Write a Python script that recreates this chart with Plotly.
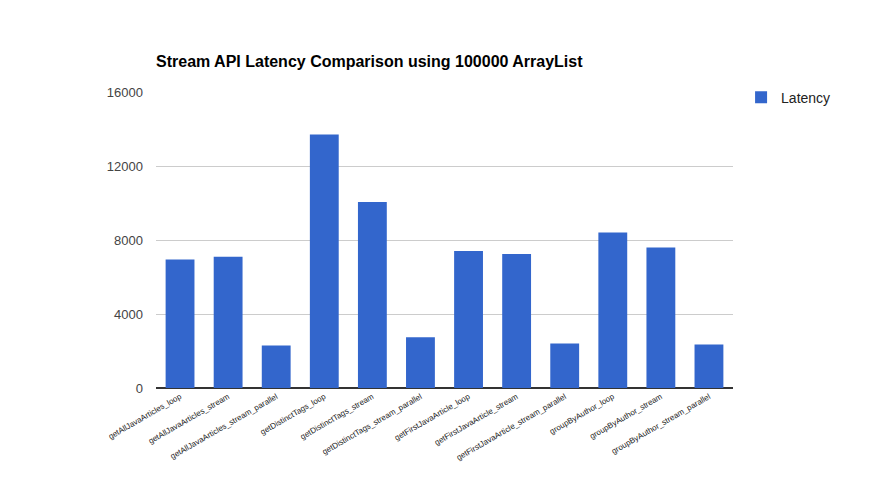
import plotly.graph_objects as go

categories = [
    "getAllJavaArticles_loop", "getAllJavaArticles_stream", "getAllJavaArticles_stream_parallel",
    "getDistinctTags_loop", "getDistinctTags_stream", "getDistinctTags_stream_parallel",
    "getFirstJavaArticle_loop", "getFirstJavaArticle_stream", "getFirstJavaArticle_stream_parallel",
    "groupByAuthor_loop", "groupByAuthor_stream", "groupByAuthor_stream_parallel",
]
latency = [6950, 7100, 2300, 13700, 10050, 2750, 7400, 7250, 2400, 8400, 7600, 2350]
y_ticks = [0, 4000, 8000, 12000, 16000]

# page body has an 8px default margin; compensate in figure margins
OFF = 8
W, H = 888, 481

fig = go.Figure()
fig.add_trace(go.Bar(x=categories, y=latency, name="Latency", marker_color="#3366cc",
                     marker_line_width=0))

fig.update_layout(
    width=W, height=H,
    margin=dict(l=156 - OFF, r=155 + OFF, t=92 - OFF, b=93 + OFF),
    paper_bgcolor="white", plot_bgcolor="white",
    font=dict(family="Liberation Sans, Arial, sans-serif", color="#222"),
    title=dict(text="<b>Stream API Latency Comparison using 100000 ArrayList</b>",
               x=(156 - OFF) / W, xanchor="left", y=1 - (61 - OFF) / H, yanchor="middle",
               font=dict(size=16, color="#000")),
    bargap=0.4,
    showlegend=True,
    legend=dict(x=1.014, xanchor="left", y=1.035, yanchor="top",
                font=dict(size=14, color="#222"), bgcolor="rgba(0,0,0,0)"),
    xaxis=dict(tickangle=-30, tickfont=dict(size=8, color="#222"), showgrid=False,
               showline=True, linecolor="#333", linewidth=1, ticks=""),
    yaxis=dict(range=[0, 16000], tickvals=y_ticks, tickformat="d",
               tickfont=dict(size=13, color="#444"), gridcolor="#cccccc",
               zeroline=True, zerolinecolor="#333", showline=False, ticks="",
               ticklabelstandoff=12),
)

fig.write_html("out.html")
